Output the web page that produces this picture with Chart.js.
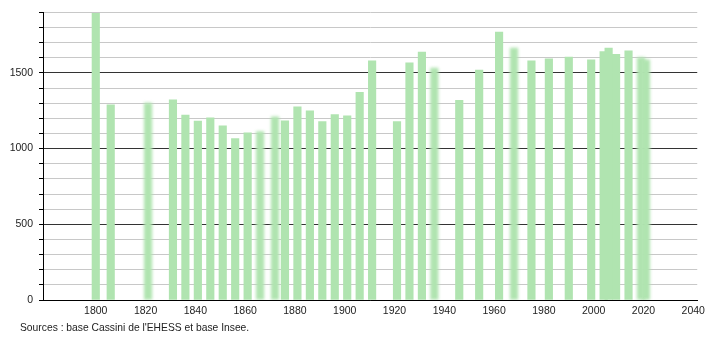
<!DOCTYPE html>
<html>
<head>
<meta charset="utf-8">
<script src="https://cdn.jsdelivr.net/npm/chart.js@4"></script>
<style>
  html, body { margin: 0; padding: 0; background: #fff; }
  #wrap { position: relative; width: 710px; height: 340px; }
  #source { position: absolute; left: 20px; top: 322px; font: 10.3px "Liberation Sans", Arial, sans-serif; color: #222; white-space: nowrap; }
</style>
</head>
<body>
<div id="wrap">
  <canvas id="c" width="710" height="340"></canvas>
  <div id="source">Sources : base Cassini de l'EHESS et base Insee.</div>
</div>
<script>
const years = [1800, 1806, 1821, 1831, 1836, 1841, 1846, 1851, 1856, 1861, 1866, 1872, 1876, 1881, 1886, 1891, 1896, 1901, 1906, 1911, 1921, 1926, 1931, 1936, 1946, 1954, 1962, 1968, 1975, 1982, 1990, 1999, 2004, 2006, 2009, 2014, 2019, 2021];
const population = [1893, 1289, 1300, 1322, 1222, 1182, 1203, 1151, 1066, 1104, 1112, 1210, 1184, 1276, 1250, 1178, 1224, 1216, 1371, 1579, 1178, 1567, 1638, 1531, 1318, 1519, 1770, 1663, 1579, 1592, 1605, 1586, 1640, 1664, 1623, 1645, 1601, 1586];
const blurredYears = [1821, 1866, 1872, 1936, 1968, 2019, 2021];
const xTickLabels = [1800, 1820, 1840, 1860, 1880, 1900, 1920, 1940, 1960, 1980, 2000, 2020, 2040];
const yMajorTicks = [0, 500, 1000, 1500];

const sharpPts = [], blurPts = [];
years.forEach((y, i) => {
  const p = { x: y, y: population[i] };
  (blurredYears.includes(y) ? blurPts : sharpPts).push(p);
});

const green = 'rgb(176, 228, 176)';

const blurPlugin = {
  id: 'blurPlugin',
  beforeDatasetDraw(chart, args) {
    const ds = chart.data.datasets[args.index];
    if (ds.blur) { chart.ctx.save(); chart.ctx.filter = 'blur(1.6px)'; }
  },
  afterDatasetDraw(chart, args) {
    const ds = chart.data.datasets[args.index];
    if (ds.blur) { chart.ctx.restore(); }
  }
};

new Chart(document.getElementById('c'), {
  type: 'bar',
  data: {
    datasets: [
      { data: sharpPts, backgroundColor: green, borderWidth: 0, barThickness: 7.5, grouped: false },
      { data: blurPts, backgroundColor: green, borderWidth: 0, barThickness: 7.5, grouped: false, blur: true }
    ]
  },
  options: {
    responsive: false,
    animation: false,
    devicePixelRatio: 1,
    layout: { padding: { top: 10, right: 10, left: 0, bottom: 0 } },
    plugins: { legend: { display: false }, tooltip: { enabled: false } },
    scales: {
      x: {
        type: 'linear',
        offset: false,
        min: 1778.8,
        max: 2041.6,
        afterBuildTicks(scale) { scale.ticks = xTickLabels.map(v => ({ value: v })); },
        afterFit(scale) { scale.height = 40; },
        grid: { display: false, offset: false, drawTicks: false },
        border: { display: true, color: '#000', width: 1 },
        ticks: {
          padding: 5,
          color: '#222',
          font: { family: '"Liberation Sans", Arial, sans-serif', size: 10.5 },
          maxRotation: 0,
          autoSkip: false,
          callback: v => String(v)
        }
      },
      y: {
        min: 0,
        max: 1900,
        afterFit(scale) { scale.width = 43; },
        grid: {
          color: ctx => (ctx.tick && ctx.tick.value % 500 === 0) ? '#333' : '#c8c8c8',
          tickColor: '#000',
          tickLength: 4,
          lineWidth: 1
        },
        border: { display: true, color: '#000', width: 1 },
        ticks: {
          stepSize: 100,
          padding: 6,
          color: '#222',
          font: { family: '"Liberation Sans", Arial, sans-serif', size: 10.5 },
          autoSkip: false,
          callback: v => yMajorTicks.includes(v) ? String(v) : ''
        }
      }
    }
  },
  plugins: [blurPlugin]
});
</script>
</body>
</html>
